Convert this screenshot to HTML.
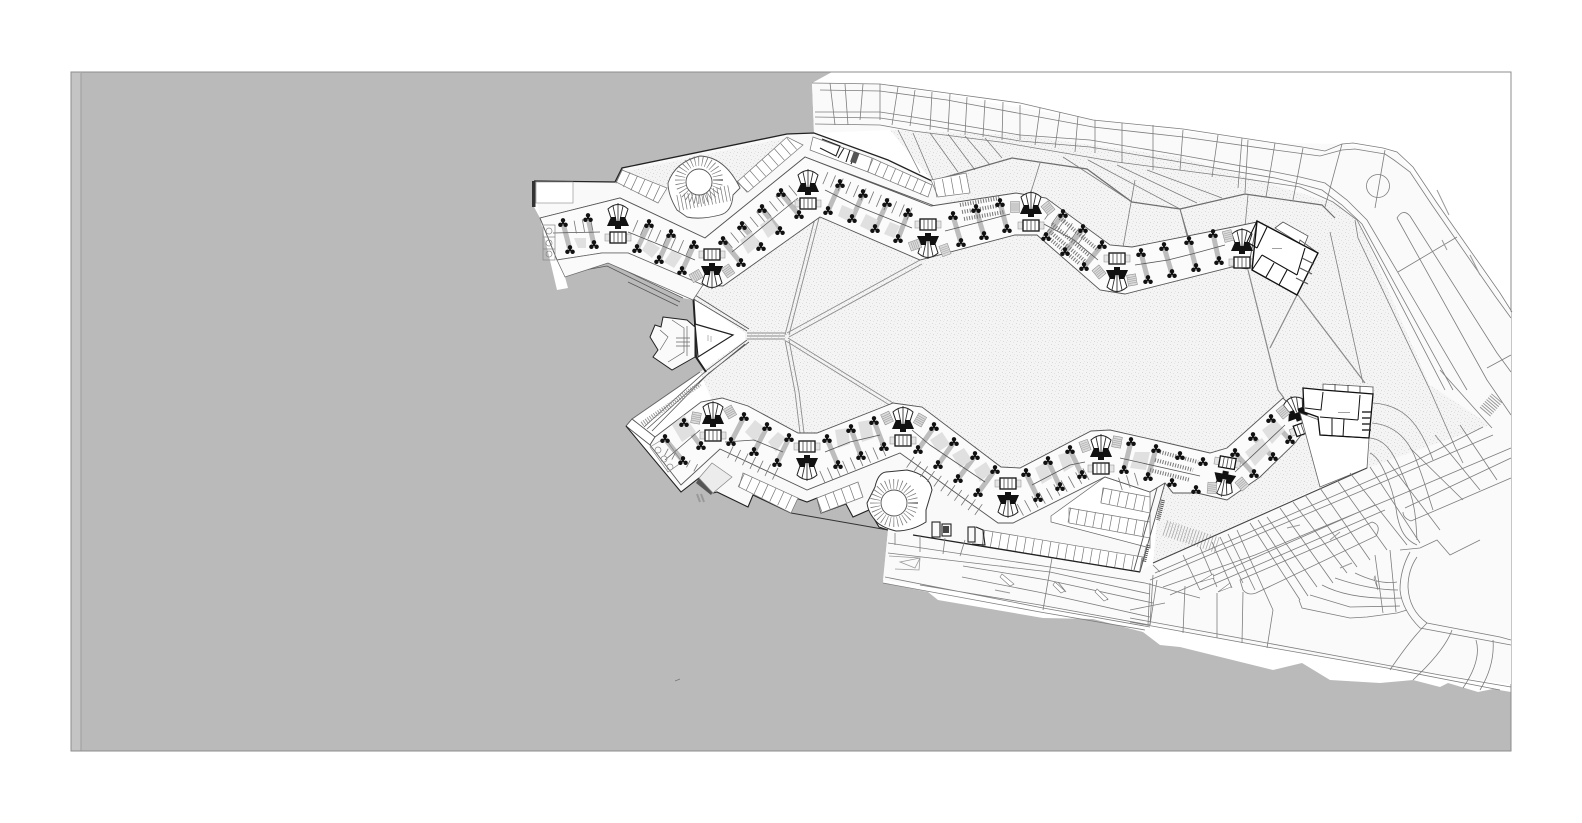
<!DOCTYPE html>
<html><head><meta charset="utf-8"><title>Site plan</title>
<style>html,body{margin:0;padding:0;background:#fff}svg{display:block}</style></head>
<body>
<svg xmlns="http://www.w3.org/2000/svg" width="1582" height="823" viewBox="0 0 1582 823">
<defs>
<pattern id="sp" width="7" height="7" patternUnits="userSpaceOnUse">
<rect width="7" height="7" fill="#f4f4f4"/>
<rect x="1" y="1" width="1" height="1" fill="#dadada"/><rect x="4" y="2" width="1" height="1" fill="#e0e0e0"/>
<rect x="2" y="5" width="1" height="1" fill="#d8d8d8"/><rect x="6" y="4" width="1" height="1" fill="#e2e2e2"/><rect x="5" y="6" width="1" height="1" fill="#e4e4e4"/>
</pattern>
<g id="t"><circle cx="0" cy="-2.7" r="2.2" fill="#111"/><circle cx="-2.6" cy="1.8" r="2.2" fill="#111"/><circle cx="2.6" cy="1.8" r="2.2" fill="#111"/><circle r="1.2" fill="#111"/></g>
<g id="p">
<path d="M-10,-15 Q0,-24 10,-15 L6,-3 L-6,-3Z" fill="#fff" stroke="#222" stroke-width="1"/>
<path d="M-5,-18 L-2,-4 M5,-18 L2,-4 M0,-21V-4" stroke="#333" stroke-width=".9" fill="none"/>
<path d="M-11,2 L-7,-7 L-2,-7 L-2,-3 L2,-3 L2,-7 L7,-7 L11,2 L3,2 L3,5 L-3,5 L-3,2Z" fill="#111"/>
<rect x="-13" y="10" width="26" height="7" fill="#e4e4e4" stroke="#999" stroke-width=".6"/>
<rect x="-8" y="8" width="16" height="11" fill="#fff" stroke="#111" stroke-width="1.3"/>
<path d="M-4,8V19M0,8V19M4,8V19" stroke="#444" stroke-width=".8"/>
</g>
<g id="h"><rect x="-4.5" y="-5.5" width="9" height="11" fill="#dadada" stroke="#888" stroke-width=".5"/><path d="M-4,-3H4M-4,-1H4M-4,1H4M-4,3H4" stroke="#999" stroke-width=".5"/></g>
</defs>

<rect width="1582" height="823" fill="#fff"/>
<!-- water -->
<rect x="71" y="72" width="1440" height="679" fill="#bababa"/>
<rect x="71" y="72" width="10" height="679" fill="#c4c4c4"/>
<line x1="81" y1="73" x2="81" y2="751" stroke="#9d9d9d" stroke-width="1"/>
<!-- land -->
<polygon fill="#fff" points="832,72 812,83 814,133 787,134 622,168 615,182 534,181 534,207 540,218 557,290 568,288 565,277 608,263 683,298 693,300 695,357 706,372 700,372 632,419 626,426 681,492 699,478 713,493 717,492 748,507 753,495 791,513 796,498 807,502 817,498 821,513 846,504 853,517 869,510 879,527 888,530 883,583 928,592 938,600 1043,618 1093,619 1143,632 1160,645 1180,647 1273,670 1302,663 1330,680 1380,683 1413,680 1440,687 1448,683 1478,692 1493,689 1511,692 1511,72"/>
<rect x="71" y="72" width="1440" height="679" fill="none" stroke="#8c8c8c" stroke-width="1"/>

<!-- road surface tint -->
<polygon fill="#fafafa" points="812,83 880,84 1093,120 1275,143 1342,144 1397,152 1437,203 1511,312 1511,684 1387,668 1267,647 1130,620 883,580 888,530 1140,572 1153,563 1367,468 1490,425 1433,390 1360,225 1335,218 1322,205 1245,194 1020,135 890,130 814,133"/>

<!-- speckle -->
<polygon fill="url(#sp)" points="890,130 1020,135 1180,157 1340,205 1360,225 1430,385 1490,425 1367,468 1320,487 1153,563 1160,490 1013,523 800,480 720,420 700,372 745,340 745,333 693,298 800,200 930,190 932,181"/>

<!-- upper road lines -->
<g fill="none" stroke="#7d7d7d" stroke-width=".8">
<polyline points="812,83 880,84 947,93 1020,103 1093,120 1183,129 1275,143 1302,147 1325,151 1342,144 1353,143 1383,148 1397,152 1413,167 1437,203 1500,293 1512,312"/>
<polyline points="820,90 880,91 947,100 1093,127 1183,137 1275,150 1320,156 1342,150 1355,149 1385,154 1394,160 1410,172 1432,205 1495,296 1511,318"/>
<polyline points="815,112 880,112 913,117 1020,135 1090,140 1180,155 1275,172 1300,177 1325,183 1347,200 1367,220 1467,390"/>
<polyline points="815,117 880,118 913,123 1020,141 1090,147 1180,162 1275,178 1300,184 1322,190 1342,205 1362,224 1453,390"/>
<polyline points="815,124 880,125 913,131 1000,142 1117,162 1233,177 1300,187 1333,202 1357,220 1445,390"/>
<polyline points="1355,220 1358,238 1430,390 1455,447 1463,463"/>
<polyline points="1440,370 1492,428"/>
<path d="M1397,218 Q1403,208 1410,216 L1497,353 L1511,372 M1397,218 L1487,380 L1511,415"/>
<path d="M1398,272 L1457,237 M1487,368 L1511,355"/>
<circle cx="1378" cy="186" r="11.5"/>
<path d="M1375,208 L1385,150"/>
<path d="M1095,120V153M1122,123V163M1153,125V170M1183,130L1180,170M1218,135L1212,177M1242,138L1238,188M1248,140L1245,193M1275,143L1266,197M1303,148L1293,200M1342,144L1325,207"/>
<path d="M830,83L835,125M845,84L848,125M863,84L860,120M880,84L880,120M898,87L892,125M915,90L910,126M932,92L930,130M950,94L948,132M967,97L965,135M985,100L983,137M1003,102L1002,140M1020,105L1020,140M1040,108L1035,145M1060,112L1055,148M1078,116L1075,152"/>
<path d="M1063,157L1132,202M1088,160L1180,209M1117,165L1197,203M1147,170L1222,198M1040,163L1030,195M1135,180L1122,253M1180,209L1188,240M1248,195L1245,227M1330,232L1363,383"/>
<path d="M898,130L920,173M913,133L933,180M930,133L958,172M948,134L975,170M965,136L990,165M985,138L1002,158"/>
</g>
<g fill="none" stroke="#8a8a8a" stroke-width="1.2">
<polyline points="1248,270 1278,390 1284,398"/><polyline points="1297,295 1270,348"/><polyline points="1298,295 1365,383"/>
</g>
<polyline points="932,181 1012,158 1087,169 1132,202 1180,209 1245,194 1322,205 1335,218" fill="none" stroke="#6d6d6d" stroke-width="1.2"/>
<line x1="1180" y1="209" x2="1190" y2="243" stroke="#777" stroke-width="1"/>

<!-- courtyard star -->
<g fill="none" stroke="#8c8c8c" stroke-width=".9">
<path d="M785,335L815,218M789,335L819,218M787,333L920,260M789,337L922,264M785,340L795,392L800,433M789,340L799,392L804,433M788,338L893,403M786,341L891,406"/>
<path d="M747,333L785,333M747,336L785,336M747,339L785,339"/>
</g>

<!-- plaza / triangle -->
<g fill="none" stroke="#555" stroke-width=".8">
<path d="M690,297L747,331M695,295L749,329M747,340L707,370L644,427M749,342L709,373L647,429M745,344L706,376L652,431"/>
<path d="M563,270L607,262L683,298M568,273L607,266L680,302M628,282L678,306"/>
</g>
<path d="M693,292L695,324L696,357L706,372" fill="none" stroke="#222" stroke-width="2"/>
<polygon points="695,324 733,335 698,357" fill="#fff" stroke="#222" stroke-width="1.2"/>
<path d="M708,335v6M711,336v6" stroke="#999" stroke-width=".7"/>
<polygon points="663,317 687,320 695,327 695,357 672,370 653,357 658,350 650,337 655,325 661,327" fill="#fafafa" stroke="#222" stroke-width="1"/>
<path d="M672,320L684,328L684,352L668,362M660,330L668,337L660,350M676,338h14M676,342h14M676,346h14M687,326v30" fill="none" stroke="#666" stroke-width=".7"/>

<!-- upper north building band -->
<polygon fill="#f9f9f9" points="534,181 615,182 622,168 787,134 814,133 888,160 932,181 966,173 970,193 931,208 805,157 705,238 620,198 540,218"/>
<polygon fill="url(#sp)" points="622,172 785,138 748,182 737,183 710,158 672,185 660,203 668,188"/>
<polyline points="534,181 615,182 622,168 787,134 814,133 888,160 932,181" fill="none" stroke="#222" stroke-width="1.3"/>
<rect x="532" y="181" width="3.5" height="26" fill="#333"/>
<rect x="536" y="182" width="37" height="21" fill="#fff" stroke="#999" stroke-width=".7"/>
<polyline points="540,218 620,198 705,238 805,157 940,208" fill="none" stroke="#555" stroke-width=".9"/>
<!-- parking rows north -->
<g fill="none">
<path d="M622,170L667,188L658,203L616,182Z M737,182L787,137L803,145L748,192Z M872,158L932,185L928,197L868,172Z M931,180L966,173L970,193L938,197Z M813,137L872,158L868,172L810,150Z" fill="#fff" stroke="#777" stroke-width=".7"/>
<path d="M619,176L662,196" stroke="#777" stroke-width="16" stroke-dasharray=".7 7.5"/>
<path d="M742,187L795,141" stroke="#777" stroke-width="15" stroke-dasharray=".7 7.5"/>
<path d="M870,165L930,191" stroke="#777" stroke-width="14" stroke-dasharray=".7 7.5"/>
<path d="M935,189L968,183" stroke="#777" stroke-width="17" stroke-dasharray=".7 8"/>
</g>
<path d="M822,139L840,146L836,156L824,150L820,148M844,148L838,158M850,150L846,162M856,152L851,164" fill="none" stroke="#222" stroke-width="1.1"/>
<rect x="852" y="152" width="6" height="11" fill="#555" transform="rotate(20 855 157)"/>

<!-- upper ramp -->
<path d="M677,210Q668,195 668,183Q675,162 700,156Q725,157 740,188L733,195Q732,212 720,215Q700,220 687,217Z" fill="#fff" stroke="#555" stroke-width=".9"/>
<circle cx="699" cy="180" r="19" fill="none" stroke="#777" stroke-width="10" stroke-dasharray=".7 3"/>
<path d="M678,203L730,193" stroke="#777" stroke-width="16" stroke-dasharray=".7 3" fill="none"/>
<circle cx="699" cy="182" r="13" fill="#fff" stroke="#555" stroke-width=".9"/>

<!-- upper wing -->
<polygon fill="#fbfbfb" stroke="#555" stroke-width=".9" points="540,218 620,198 705,238 805,157 931,206 1016,193 1046,198 1110,245 1132,247 1233,227 1257,222 1248,269 1232,267 1125,294 1100,290 1037,235 1015,235 920,260 820,217 723,286 703,285 628,253 602,253 557,260"/>
<polygon fill="#fafafa" stroke="#666" stroke-width=".7" points="557,260 602,253 628,253 703,285 693,300 608,263 565,277"/>
<!-- upper hourglasses -->
<g stroke="#bdbdbd" stroke-width="5" fill="none">
<path d="M563,223L570,250M588,218L594,245M649,224L637,249M671,234L659,260M694,245L682,271M723,241L741,263M742,226L761,247M762,209L780,231M781,193L799,215M840,184L828,211M863,194L852,219M887,203L875,229M908,213L898,239M953,216L961,243M976,209L984,236M1000,203L1007,229M1063,214L1046,237M1083,229L1065,252M1102,245L1084,267M1141,253L1148,280M1164,247L1172,274M1189,241L1196,268M1213,234L1219,261"/>
</g>
<g fill="#e0e0e0"><polygon points="574,238 586,238 586,248 578,248"/><polygon points="648,240 660,248 652,258 642,250"/><polygon points="672,250 682,256 674,268 664,262"/><polygon points="740,240 752,232 760,244 748,254"/><polygon points="760,225 770,218 778,230 768,238"/><polygon points="842,205 854,210 850,222 838,216"/><polygon points="866,214 878,220 872,232 860,226"/><polygon points="890,222 900,226 894,238 884,234"/></g>
<!-- mid lines -->
<g fill="none" stroke="#555" stroke-width=".8">
<polyline points="553,233 600,232"/><polyline points="628,232 665,247 695,260"/><polyline points="732,252 771,220 798,198"/><polyline points="825,190 857,206 912,228"/><polyline points="945,231 980,222 1010,214"/><polyline points="1040,222 1074,240 1098,260"/><polyline points="1135,265 1168,260 1192,254 1225,245"/>
</g>
<g fill="none" stroke="#777" stroke-width="13" stroke-dasharray=".8 7.5">
<path d="M635,226L690,250"/><path d="M728,243L796,188"/><path d="M825,178L910,214"/><path d="M1048,214L1085,240"/><path d="M592,224L570,228"/>
</g>
<g fill="none" stroke="#777" stroke-width=".6">
<path d="M1060,218L1098,250M1052,224L1090,256M1048,230L1086,262M1044,234L1080,264" stroke-width="4" stroke-dasharray="1 1.6"/>
<path d="M960,205L1000,198M962,212L1002,205M964,219L1004,212" stroke-width="4" stroke-dasharray="1 1.6"/>
</g>
<!-- left rooms -->
<g fill="none" stroke="#888" stroke-width=".7"><rect x="543" y="225" width="12" height="35"/><path d="M543,237h12M543,249h12"/><circle cx="549" cy="231" r="3"/><circle cx="549" cy="243" r="3"/><circle cx="549" cy="254" r="3"/></g>

<!-- lower building band -->
<polygon fill="#f9f9f9" points="650,445 681,492 699,478 713,493 717,492 748,507 753,495 791,513 796,498 807,502 817,498 821,513 846,504 853,517 869,510 879,527 888,530 913,535 1140,572 1165,483 1150,492 1105,477 1013,523 998,523 900,453 807,490 720,449 681,485"/>
<polygon fill="#fff" stroke="#555" stroke-width=".9" points="626,426 632,419 655,437 650,445"/>
<polyline points="626,426 681,492 699,478 713,493 717,492 748,507 753,495 791,513" fill="none" stroke="#222" stroke-width="1.1"/>
<polyline points="796,498 807,502 817,498 821,513 846,504 853,517 869,510 879,527 888,530" fill="none" stroke="#222" stroke-width="1.1"/>
<line x1="791" y1="513" x2="888" y2="530" stroke="#333" stroke-width="1"/>
<polygon points="699,478 696,483 711,495 714,490" fill="#555"/>
<polygon points="699,478 712,463 732,477 713,493" fill="#ececec" stroke="#888" stroke-width=".7"/>
<polyline points="632,419 700,372" fill="none" stroke="#666" stroke-width="1"/>
<path d="M642,424L700,384" stroke="#999" stroke-width="5" stroke-dasharray="1 1.5" fill="none"/>
<!-- lower parking -->
<g fill="none">
<path d="M743,473L798,498L791,513L739,487Z M817,498L858,482L863,497L821,513Z M983,530L1143,557L1140,572L983,546Z" fill="#fff" stroke="#777" stroke-width=".7"/>
<path d="M741,480L795,505" stroke="#777" stroke-width="15" stroke-dasharray=".7 8"/>
<path d="M819,505L860,490" stroke="#777" stroke-width="15" stroke-dasharray=".7 8"/>
<path d="M983,538L1141,565" stroke="#777" stroke-width="15" stroke-dasharray=".7 7.7"/>
<path d="M913,535L1140,572" stroke="#222" stroke-width="1.3"/>
<polygon points="1105,477 1150,492 1150,548 1051,522 1051,516" fill="#fff" stroke="#666" stroke-width=".7"/>
<path d="M1069,508L1150,522L1150,538L1069,523Z M1103,488L1150,497L1150,513L1101,503Z" fill="#fff" stroke="#777" stroke-width=".7"/>
<path d="M1069,515L1150,530" stroke="#777" stroke-width="15" stroke-dasharray=".7 7.7"/>
<path d="M1102,495L1150,505" stroke="#777" stroke-width="15" stroke-dasharray=".7 7.7"/>
<path d="M1165,483L1140,572M1159,481L1134,570" stroke="#555" stroke-width=".9"/>
<path d="M1163,500L1158,520" stroke="#555" stroke-width="4" stroke-dasharray="1 1"/>
<path d="M1148,545L1144,562" stroke="#555" stroke-width="4" stroke-dasharray="1 1"/>
</g>
<path d="M1165,528L1217,545" stroke="#aaa" stroke-width="16" stroke-dasharray=".8 2.2" fill="none" transform="rotate(0)"/>
<g fill="none" stroke="#222" stroke-width="1.1"><rect x="932" y="522" width="8" height="15"/><rect x="942" y="524" width="9" height="12"/><rect x="968" y="527" width="7" height="15"/><path d="M976,527L983,530L985,545L972,544"/></g>
<rect x="943" y="526" width="6" height="7" fill="#444"/>
<!-- lower ramp -->
<path d="M875,487Q878,473 886,472L907,470Q930,475 932,490L926,510L926,522Q912,531 896,531Q880,527 875,520Q868,512 867,503Z" fill="#fff" stroke="#333" stroke-width="1"/>
<circle cx="894" cy="503" r="19" fill="none" stroke="#777" stroke-width="10" stroke-dasharray=".7 3"/>
<circle cx="894" cy="503" r="13" fill="#fff" stroke="#555" stroke-width=".9"/>

<!-- lower wing -->
<polygon fill="#fbfbfb" stroke="#555" stroke-width=".9" points="655,437 701,402 722,398 748,406 798,433 817,433 893,403 922,407 1001,467 1020,468 1091,431 1110,430 1163,442 1210,453 1227,448 1283,398 1300,415 1305,430 1295,443 1260,477 1237,493 1227,500 1197,493 1173,493 1165,483 1150,492 1105,477 1013,523 998,523 900,453 807,490 720,449 681,485 650,445"/>
<g stroke="#bdbdbd" stroke-width="5" fill="none">
<path d="M684,423L701,446M665,439L683,461M744,417L731,442M767,427L754,452M789,438L777,463M827,439L838,465M851,429L861,456M874,421L884,447M934,427L918,450M954,442L938,465M975,456L958,479M995,470L978,493M1026,473L1038,498M1048,461L1060,487M1070,450L1082,475M1131,442L1124,470M1156,449L1148,477M1235,453L1254,474M1253,437L1273,457M1271,419L1290,440"/>
</g>
<g fill="#e0e0e0"><polygon points="672,425 684,415 696,432 682,442"/><polygon points="745,432 755,420 765,428 755,442"/><polygon points="768,442 778,432 786,438 776,452"/><polygon points="835,430 848,428 850,444 838,448"/><polygon points="858,422 870,420 874,438 862,442"/><polygon points="930,440 942,432 950,444 938,452"/><polygon points="952,455 964,448 972,460 960,468"/><polygon points="974,470 986,462 992,472 980,482"/><polygon points="1035,468 1046,462 1052,478 1042,484"/><polygon points="1058,455 1068,452 1074,466 1064,472"/><polygon points="1135,452 1150,452 1146,470 1130,468"/><polygon points="1245,452 1262,438 1270,450 1255,466"/><polygon points="1262,430 1275,420 1285,430 1272,444"/></g>
<g fill="none" stroke="#555" stroke-width=".8">
<polyline points="665,460 700,430"/><polyline points="725,442 754,440 783,452"/><polyline points="825,452 850,442 880,435"/><polyline points="912,430 930,445 985,482"/><polyline points="1032,485 1070,465 1085,462"/><polyline points="1120,458 1200,476"/><polyline points="1235,472 1285,425"/>
</g>
<g fill="none" stroke="#777" stroke-width="13" stroke-dasharray=".8 7.5">
<path d="M730,452L782,477"/><path d="M822,477L888,448"/><path d="M910,462L985,514"/><path d="M1020,510L1090,472"/><path d="M1120,484L1140,478"/><path d="M666,452L700,470" stroke-width="8"/>
</g>
<path d="M1160,452L1198,462M1155,460L1193,470M1150,470L1190,480" stroke="#777" stroke-width="4" stroke-dasharray="1 1.6" fill="none"/>
<g fill="none" stroke="#888" stroke-width=".7"><path d="M650,447L665,438L682,462L668,472Z"/><circle cx="658" cy="450" r="3"/><circle cx="664" cy="459" r="3"/><circle cx="670" cy="467" r="3"/></g>

<!-- trefoils -->
<g>
<use href="#t" x="563" y="223"/><use href="#t" x="588" y="218"/><use href="#t" x="570" y="250"/><use href="#t" x="594" y="245"/><use href="#t" x="649" y="224"/><use href="#t" x="671" y="234"/><use href="#t" x="694" y="245"/><use href="#t" x="637" y="249"/><use href="#t" x="659" y="260"/><use href="#t" x="682" y="271"/><use href="#t" x="723" y="241"/><use href="#t" x="742" y="226"/><use href="#t" x="762" y="209"/><use href="#t" x="781" y="193"/><use href="#t" x="741" y="263"/><use href="#t" x="761" y="247"/><use href="#t" x="780" y="231"/><use href="#t" x="799" y="215"/><use href="#t" x="840" y="184"/><use href="#t" x="863" y="194"/><use href="#t" x="887" y="203"/><use href="#t" x="908" y="213"/><use href="#t" x="828" y="211"/><use href="#t" x="852" y="219"/><use href="#t" x="875" y="229"/><use href="#t" x="898" y="239"/>
<use href="#t" x="953" y="216"/><use href="#t" x="976" y="209"/><use href="#t" x="1000" y="203"/><use href="#t" x="961" y="243"/><use href="#t" x="984" y="236"/><use href="#t" x="1007" y="229"/><use href="#t" x="1063" y="214"/><use href="#t" x="1083" y="229"/><use href="#t" x="1102" y="245"/><use href="#t" x="1046" y="237"/><use href="#t" x="1065" y="252"/><use href="#t" x="1084" y="267"/><use href="#t" x="1141" y="253"/><use href="#t" x="1164" y="247"/><use href="#t" x="1189" y="241"/><use href="#t" x="1213" y="234"/><use href="#t" x="1148" y="280"/><use href="#t" x="1172" y="274"/><use href="#t" x="1196" y="268"/><use href="#t" x="1219" y="261"/>
<use href="#t" x="684" y="423"/><use href="#t" x="665" y="439"/><use href="#t" x="701" y="446"/><use href="#t" x="683" y="461"/><use href="#t" x="744" y="417"/><use href="#t" x="767" y="427"/><use href="#t" x="789" y="438"/><use href="#t" x="731" y="442"/><use href="#t" x="754" y="452"/><use href="#t" x="777" y="463"/><use href="#t" x="827" y="439"/><use href="#t" x="851" y="429"/><use href="#t" x="874" y="421"/><use href="#t" x="838" y="465"/><use href="#t" x="861" y="456"/><use href="#t" x="884" y="447"/><use href="#t" x="934" y="427"/><use href="#t" x="954" y="442"/><use href="#t" x="975" y="456"/><use href="#t" x="995" y="470"/><use href="#t" x="918" y="450"/><use href="#t" x="938" y="465"/><use href="#t" x="958" y="479"/><use href="#t" x="978" y="493"/><use href="#t" x="1026" y="473"/><use href="#t" x="1048" y="461"/><use href="#t" x="1070" y="450"/><use href="#t" x="1038" y="498"/><use href="#t" x="1060" y="487"/><use href="#t" x="1082" y="475"/><use href="#t" x="1131" y="442"/><use href="#t" x="1124" y="470"/><use href="#t" x="1156" y="449"/><use href="#t" x="1148" y="477"/><use href="#t" x="1180" y="456"/><use href="#t" x="1203" y="462"/><use href="#t" x="1172" y="483"/><use href="#t" x="1196" y="490"/><use href="#t" x="1235" y="453"/><use href="#t" x="1253" y="437"/><use href="#t" x="1271" y="419"/><use href="#t" x="1254" y="474"/><use href="#t" x="1273" y="457"/><use href="#t" x="1290" y="440"/>
</g>
<!-- pods -->
<use href="#p" transform="translate(618,224)"/>
<use href="#p" transform="translate(712,268) rotate(180)"/>
<use href="#p" transform="translate(808,190)"/>
<use href="#p" transform="translate(928,238) rotate(180)"/>
<use href="#p" transform="translate(1031,212)"/>
<use href="#p" transform="translate(1117,272) rotate(180)"/>
<use href="#p" transform="translate(1242,249)"/>
<use href="#p" transform="translate(713,422)"/>
<use href="#p" transform="translate(807,460) rotate(180)"/>
<use href="#p" transform="translate(903,427)"/>
<use href="#p" transform="translate(1008,497) rotate(180)"/>
<use href="#p" transform="translate(1101,455)"/>
<use href="#p" transform="translate(1225,476) rotate(190)"/>
<use href="#p" transform="translate(1298,416) rotate(-20)"/>
<!-- hatch boxes near pods -->
<use href="#h" transform="translate(696,276) rotate(60)"/><use href="#h" transform="translate(728,271) rotate(-35)"/><use href="#h" transform="translate(915,245) rotate(70)"/><use href="#h" transform="translate(945,250) rotate(-20)"/><use href="#h" transform="translate(1015,207)"/><use href="#h" transform="translate(1048,208) rotate(-40)"/><use href="#h" transform="translate(1099,272) rotate(-40)"/><use href="#h" transform="translate(1132,280) rotate(-10)"/><use href="#h" transform="translate(1228,236) rotate(-15)"/><use href="#h" transform="translate(696,418) rotate(10)"/><use href="#h" transform="translate(730,412) rotate(-30)"/><use href="#h" transform="translate(887,418) rotate(-25)"/><use href="#h" transform="translate(920,420) rotate(30)"/><use href="#h" transform="translate(1085,446) rotate(-20)"/><use href="#h" transform="translate(1117,442) rotate(10)"/><use href="#h" transform="translate(1212,488) rotate(5)"/><use href="#h" transform="translate(1242,484) rotate(-40)"/><use href="#h" transform="translate(1283,412) rotate(-40)"/>

<!-- upper right building -->
<path d="M1275,228L1283,222L1308,236L1304,246Z M1300,240L1318,253L1314,260L1298,250Z" fill="#fff" stroke="#555" stroke-width=".8"/>
<polygon points="1257,221 1318,253 1297,295 1252,270" fill="#fff" stroke="#111" stroke-width="1.4"/>
<path d="M1267,227L1257,248M1257,221L1247,242L1257,248M1262,255L1297,275M1305,248L1297,275M1262,255L1252,270M1274,263L1266,277M1287,270L1279,285" fill="none" stroke="#111" stroke-width="1.1"/>
<path d="M1300,268L1312,274M1296,278L1308,284M1302,258L1314,264" stroke="#555" stroke-width="1.2"/>
<rect x="1272" y="248" width="10" height=".8" fill="#888"/>
<!-- lower right building and lot -->
<polygon points="1300,413 1369,438 1367,468 1320,487" fill="#fff" stroke="#666" stroke-width=".8"/>
<path d="M1323,384L1373,387L1373,394L1323,392Z" fill="#fff" stroke="#555" stroke-width=".8"/>
<path d="M1335,384V392M1348,385V393M1360,386V394" stroke="#333" stroke-width=".8"/>
<polygon points="1303,388 1323,390 1373,394 1369,438 1320,435 1318,417 1304,412" fill="#fff" stroke="#111" stroke-width="1.3"/>
<path d="M1360,395L1358,420M1320,417L1358,420M1320,435L1369,438M1332,418V436M1344,419L1343,437M1323,392L1321,410L1305,408" fill="none" stroke="#111" stroke-width="1"/>
<path d="M1362,412h9M1362,424h9M1362,430h9M1362,418h9" stroke="#333" stroke-width="1.4"/>
<rect x="1338" y="412" width="12" height=".8" fill="#888"/>
<!-- arcs right of lower building -->
<g fill="none" stroke="#7d7d7d" stroke-width=".8">
<path d="M1373,403C1405,405 1420,425 1433,460"/>
<path d="M1372,423C1395,425 1410,440 1418,465C1424,480 1428,495 1433,510"/>
<path d="M1370,438C1390,440 1396,460 1410,492C1416,510 1416,525 1417,540"/>
<path d="M1370,453C1380,457 1393,485 1397,515C1400,530 1405,540 1417,545"/>
</g>
<path d="M1485,412L1497,398" stroke="#9a9a9a" stroke-width="14" stroke-dasharray="1 1.5" fill="none"/>

<!-- diagonal road -->
<g fill="none" stroke="#7d7d7d" stroke-width=".8">
<path d="M1153,563L1367,468" stroke="#444" stroke-width="1.1"/>
<path d="M1155,573L1417,460L1483,427M1150,580L1423,465L1493,435M1163,587L1255,555L1400,495L1511,448M1170,595L1375,505M1200,590L1385,510"/>
<path d="M1243,590Q1248,596 1256,593L1376,536Q1382,525 1372,522L1345,535L1240,580Z"/>
<path d="M1405,508L1511,458M1403,512Q1403,518 1411,521L1511,478"/>
<path d="M1183,555L1200,590M1200,547L1217,587M1212,542L1232,588M1220,537L1243,583M1228,534L1255,590M1237,530L1273,610M1250,523L1300,600M1258,520L1308,596M1267,517L1317,587M1280,508L1333,583M1293,502L1347,573M1305,495L1357,567M1320,488L1370,560M1337,480L1387,550M1350,473L1407,545M1370,467L1420,543"/>
<path d="M1387,460L1440,530M1410,448L1463,500M1435,435L1480,490M1460,425L1497,480"/>
<path d="M1400,550L1420,548L1437,540L1450,555L1480,540"/>
<path d="M1417,557Q1408,570 1408,587Q1409,610 1427,623L1500,637L1511,640"/>
<path d="M1410,552Q1400,570 1400,590Q1402,610 1420,628L1511,645"/>
<!-- contours -->
<path d="M1299,600L1302,608L1350,618L1367,617L1397,613L1407,610"/>
<path d="M1310,595L1350,607L1400,606"/>
<path d="M1322,585Q1350,600 1402,598"/>
<path d="M1335,578Q1370,590 1398,590"/>
<path d="M1355,573Q1380,585 1397,582"/>
<path d="M1375,555L1383,613M1390,550L1396,612"/>
<path d="M1153,565L1160,572M1153,575L1150,625"/>
<!-- bottom road -->
<path d="M1130,622L1267,647L1387,668L1500,690"/>
<path d="M1130,618L1267,643L1440,675L1511,687"/>
<path d="M1130,610L1165,603"/>
<path d="M1150,583L1148,625M1185,586L1183,633M1217,593L1217,638M1243,592L1242,643M1273,610L1267,648"/>
<path d="M1427,623Q1410,640 1390,670M1452,630Q1445,650 1413,680M1476,640Q1482,660 1463,688M1493,640Q1495,665 1480,690"/>
<path d="M888,543L1050,567L1145,583L1200,598M888,553L1050,572L1150,594M885,577L1043,608L1150,627M883,583L1040,612L1145,630M920,585L1040,605L1150,625M963,566L1047,580L1153,603M962,577L1043,593L1150,617"/>
<path d="M1052,558L1043,610M1157,580L1150,625M895,533V545M920,535V552M945,538L943,554M965,540L960,556"/>
<path d="M920,558L915,568L900,562Z M889,556L920,558L919,570L895,569" stroke="#999"/>
<path d="M1003,576L1013,585L1008,581M1058,582L1066,592M1098,590L1108,600"/>
</g>
<!-- small road marks -->
<g fill="#fff" stroke="#777" stroke-width=".6">
<polygon points="1002,574 1014,584 1010,586 1000,577"/><polygon points="1055,582 1065,591 1061,593 1053,585"/><polygon points="1097,589 1108,599 1104,601 1095,592"/>
<polygon points="1200,582 1213,574 1214,578"/><polygon points="1218,592 1230,583 1231,587"/><polygon points="1375,576 1378,590 1374,578"/>
</g>
<g stroke="#999" stroke-width="1" fill="none"><path d="M1000,566L1015,568M995,590L1010,593M1287,528L1300,525M1330,540L1340,532M1340,568L1352,563M1437,190L1449,215M1470,255L1480,275M1442,240L1447,250"/></g>
<!-- bits -->
<path d="M697,494l3,8M701,494l3,8" stroke="#999" stroke-width="2"/>
<line x1="675" y1="681" x2="680" y2="679" stroke="#777" stroke-width=".7"/>
</svg>
</body></html>
